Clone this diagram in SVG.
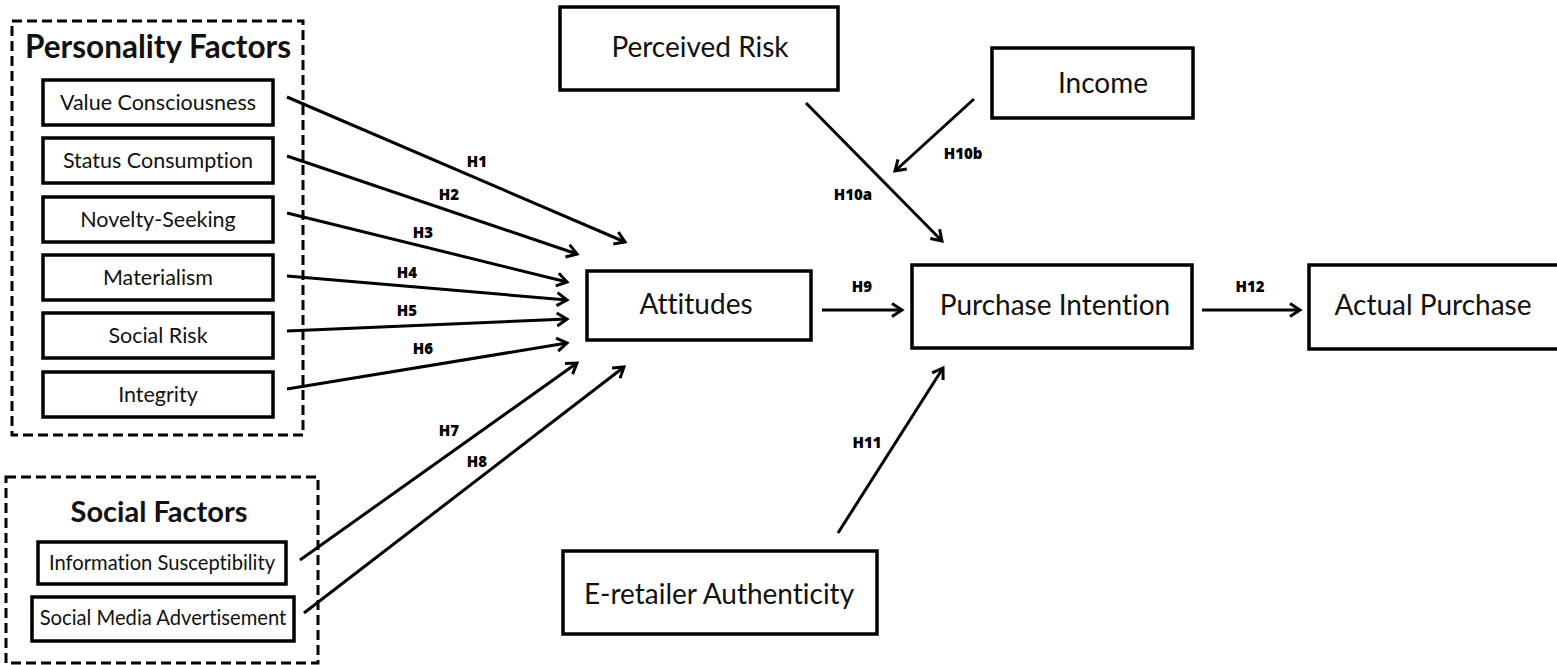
<svg xmlns="http://www.w3.org/2000/svg" width="1557" height="665" viewBox="0 0 1557 665">
<style>
.box{fill:#fff;stroke:#000;stroke-width:3.5}
.grp{fill:none;stroke:#000;stroke-width:3;stroke-dasharray:10 5}
.t{font-family:Lato,"Open Sans",sans-serif;fill:#111;text-anchor:middle;font-variant-ligatures:none}
.s{font-size:21.5px}
.s2{font-size:20.2px}
.m{font-size:28px}
.title{font-family:Lato,"Open Sans",sans-serif;font-weight:bold;fill:#111;text-anchor:middle}
.lbl{font-family:"Open Sans","DejaVu Sans",sans-serif;font-weight:800;font-size:15px;fill:#000;text-anchor:middle}
.c{stroke:#000;stroke-width:3;fill:none;marker-end:url(#ah)}
</style>
<defs>
<marker id="ah" markerUnits="userSpaceOnUse" markerWidth="20" markerHeight="20" viewBox="-12 -10 14 20" refX="0" refY="0" orient="auto">
<path d="M -10 -6.5 L 0 0 L -10 6.5" fill="none" stroke="#000" stroke-width="3"/>
</marker>
</defs>
<rect width="1557" height="665" fill="#fff"/>

<g id="personality-factors">
<rect class="grp" x="12" y="21" width="291" height="414"/>
<text class="title" x="158" y="58" font-size="31.5">Personality Factors</text>
</g>
<g id="value-consciousness"><rect class="box" x="43" y="80" width="230" height="45"/><text class="t s" x="158" y="110">Value Consciousness</text></g>
<g id="status-consumption"><rect class="box" x="43" y="138" width="230" height="45"/><text class="t s" x="158" y="168">Status Consumption</text></g>
<g id="novelty-seeking"><rect class="box" x="43" y="197" width="230" height="45"/><text class="t s" x="158" y="227">Novelty-Seeking</text></g>
<g id="materialism"><rect class="box" x="43" y="255" width="230" height="45"/><text class="t s" x="158" y="285">Materialism</text></g>
<g id="social-risk"><rect class="box" x="43" y="313" width="230" height="45"/><text class="t s" x="158" y="343">Social Risk</text></g>
<g id="integrity"><rect class="box" x="43" y="372" width="230" height="45"/><text class="t s" x="158" y="402">Integrity</text></g>

<g id="social-factors">
<rect class="grp" x="6" y="477" width="312" height="186"/>
<text class="title" x="159" y="522" font-size="29">Social Factors</text>
</g>
<g id="information-susceptibility"><rect class="box" x="38" y="542" width="248" height="42"/><text class="t s2" x="162" y="570">Information Susceptibility</text></g>
<g id="social-media-advertisement"><rect class="box" x="32" y="597" width="262" height="44"/><text class="t s2" x="163" y="625">Social Media Advertisement</text></g>

<g id="attitudes"><rect class="box" x="587" y="271" width="224" height="69"/><text class="t m" x="696" y="314">Attitudes</text></g>
<g id="perceived-risk"><rect class="box" x="560" y="7" width="278" height="83"/><text class="t m" x="700" y="57">Perceived Risk</text></g>
<g id="income"><rect class="box" x="992" y="48" width="201" height="70"/><text class="t m" x="1103" y="93">Income</text></g>
<g id="purchase-intention"><rect class="box" x="912" y="265" width="280" height="83"/><text class="t m" x="1055" y="315">Purchase Intention</text></g>
<g id="actual-purchase"><rect class="box" x="1309" y="265" width="260" height="84"/><text class="t m" x="1433" y="315">Actual Purchase</text></g>
<g id="e-retailer-authenticity"><rect class="box" x="563" y="551" width="314" height="83"/><text class="t m" x="719" y="604">E-retailer Authenticity</text></g>

<g id="connectors">
<line class="c" x1="287" y1="97" x2="625" y2="242"/>
<line class="c" x1="287" y1="156" x2="577" y2="254"/>
<line class="c" x1="287" y1="213" x2="567" y2="282"/>
<line class="c" x1="287" y1="276" x2="567" y2="300"/>
<line class="c" x1="287" y1="331" x2="567" y2="319"/>
<line class="c" x1="287" y1="389" x2="567" y2="343"/>
<line class="c" x1="300" y1="560" x2="577" y2="363"/>
<line class="c" x1="304" y1="613" x2="624" y2="367"/>
<line class="c" x1="822" y1="310" x2="902" y2="310"/>
<line class="c" x1="1202" y1="310" x2="1300" y2="310"/>
<line class="c" x1="806" y1="103" x2="942" y2="241"/>
<line class="c" x1="974" y1="99" x2="895" y2="171"/>
<line class="c" x1="838" y1="533" x2="943" y2="368"/>
<text class="lbl" x="477" y="167">H1</text>
<text class="lbl" x="449" y="200">H2</text>
<text class="lbl" x="423" y="238">H3</text>
<text class="lbl" x="407" y="278">H4</text>
<text class="lbl" x="407" y="316">H5</text>
<text class="lbl" x="423" y="354">H6</text>
<text class="lbl" x="449" y="436">H7</text>
<text class="lbl" x="477" y="467">H8</text>
<text class="lbl" x="862" y="292">H9</text>
<text class="lbl" x="1250" y="292">H12</text>
<text class="lbl" x="853" y="200">H10a</text>
<text class="lbl" x="963" y="159">H10b</text>
<text class="lbl" x="867" y="448">H11</text>
</g>
</svg>
